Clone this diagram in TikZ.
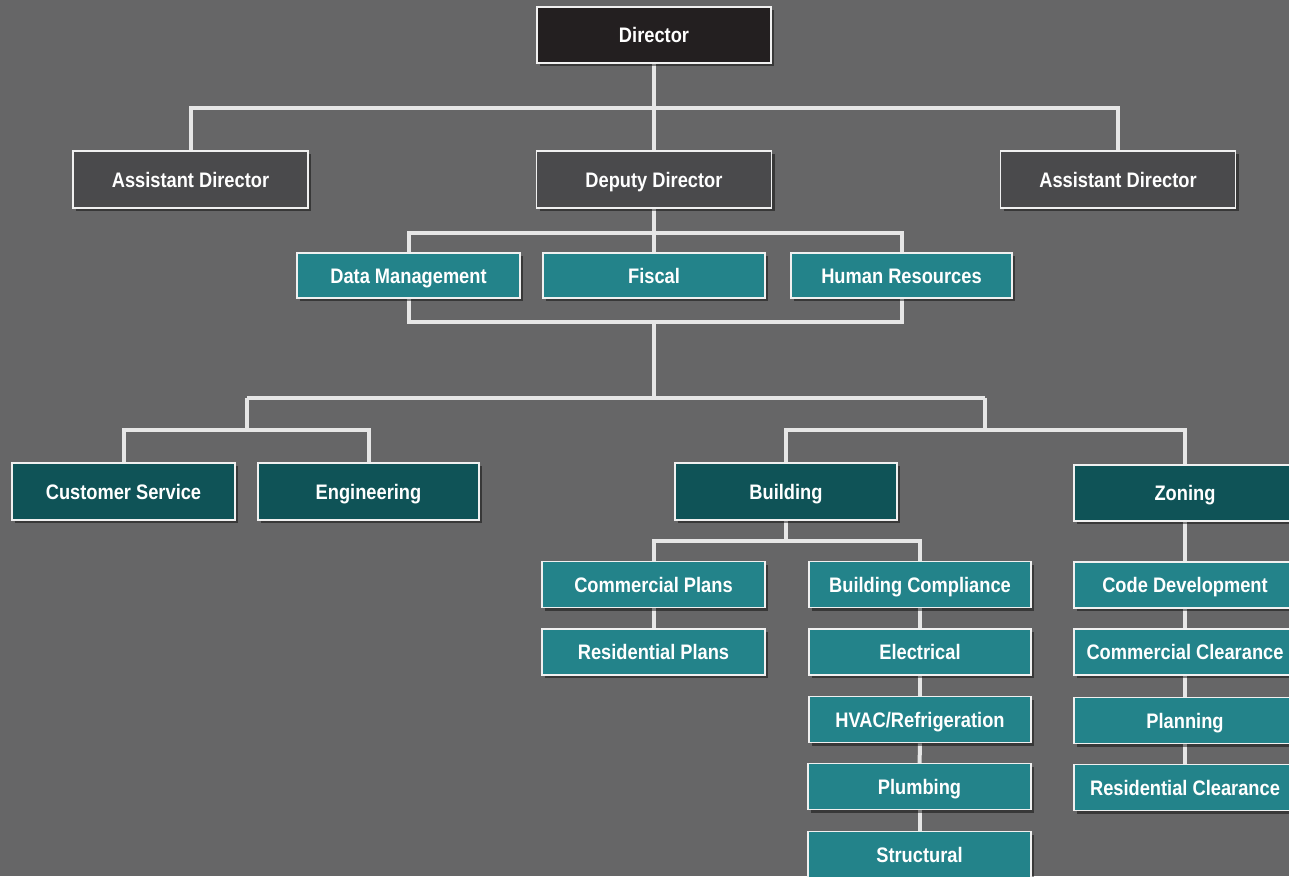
\documentclass[tikz,border=0pt]{standalone}
\usepackage{fontspec}
\setmainfont{Liberation Sans}[FakeStretch=0.87]
\usetikzlibrary{shadows}
\definecolor{bgc}{HTML}{666667}
\definecolor{dircol}{HTML}{231F20}
\definecolor{graycol}{HTML}{4A4A4C}
\definecolor{tealL}{HTML}{23838A}
\definecolor{tealD}{HTML}{0F5357}
\definecolor{linec}{HTML}{E6E6E6}
\pgfdeclarelayer{back}
\pgfdeclarelayer{lines}
\pgfsetlayers{back,lines,main}
\tikzset{
  box/.style={draw=white!94!black, line width=1.5pt, text=white,
    font=\fontsize{21}{24}\selectfont\bfseries, inner sep=0pt,
    text height=15pt, text depth=0pt,
    drop shadow={shadow xshift=3pt, shadow yshift=-3pt, opacity=0.45, fill=black}},
  topbox/.style={box, fill=dircol, minimum width=234pt, minimum height=56pt},
  graybox/.style={box, fill=graycol, minimum width=235pt, minimum height=57pt},
  staffbox/.style={box, fill=tealL, minimum width=222pt, minimum height=45pt},
  divbox/.style={box, fill=tealD, minimum width=222pt, minimum height=57pt},
  unitbox/.style={box, fill=tealL, minimum width=222pt, minimum height=46pt},
  conn/.style={draw=linec, line width=4pt}
}
\begin{document}
\begin{tikzpicture}[x=1pt,y=-1pt]
\begin{pgfonlayer}{back}
\fill[bgc] (0,0) rectangle (1289,876);
\end{pgfonlayer}
\useasboundingbox (0,0) rectangle (1289,876);

% nodes
\node[topbox] (dir) at (654,35) {Director};
\node[graybox] (ad1) at (190.5,179.5) {Assistant Director};
\node[graybox] (dep) at (654,179.5) {Deputy Director};
\node[graybox] (ad2) at (1118,179.5) {Assistant Director};

\node[staffbox, minimum width=223pt] (dm) at (408.5,275.5) {Data Management};
\node[staffbox] (fis) at (654,275.5) {Fiscal};
\node[staffbox, minimum width=221pt] (hr) at (901.5,275.5) {Human Resources};

\node[divbox, minimum width=223pt] (cs) at (123.5,491.5) {Customer Service};
\node[divbox, minimum width=221pt] (eng) at (368.5,491.5) {Engineering};
\node[divbox] (bld) at (786,491.5) {Building};
\node[divbox, minimum height=56pt] (zon) at (1185,493) {Zoning};

\node[unitbox, minimum width=223pt] (cp) at (653.5,584.5) {Commercial Plans};
\node[unitbox, minimum width=223pt] (rp) at (653.5,652) {Residential Plans};
\node[unitbox] (bc) at (920,584.5) {Building Compliance};
\node[unitbox] (el) at (920,652) {Electrical};
\node[unitbox] (hv) at (920,719.5) {HVAC/Refrigeration};
\node[unitbox, minimum width=223pt] (pl) at (919.5,786.5) {Plumbing};
\node[unitbox, minimum width=223pt] (st) at (919.5,854.5) {Structural};

\node[unitbox] (cd) at (1185,585) {Code Development};
\node[unitbox] (cc) at (1185,652) {Commercial Clearance};
\node[unitbox] (pn) at (1185,720.5) {Planning};
\node[unitbox] (rc) at (1185,787.5) {Residential Clearance};

% junctions
\coordinate (j1) at (654,108);
\coordinate (j2) at (654,233);
\coordinate (j3) at (654,322);
\coordinate (j4) at (654,398);
\coordinate (j5) at (247,430);
\coordinate (j6) at (985,430);
\coordinate (j7) at (786,541);

\begin{pgfonlayer}{lines}
\draw[conn] (dir.south) -- (j1);
\draw[conn] (ad1.north) |- (j1) -| (ad2.north);
\draw[conn] (j1) -- (dep.north);

\draw[conn] (dep.south) -- (j2);
\draw[conn] (dm.north) |- (j2) -| (hr.north);
\draw[conn] (j2) -- (fis.north);

\draw[conn] (dm.south) |- (j3) -| (hr.south);
\draw[conn] (j3) -- (j4);
\draw[conn] (j5 |- j4) -- (j6 |- j4);
\draw[conn] (j5 |- j4) -- (j5);
\draw[conn] (j6 |- j4) -- (j6);

\draw[conn] (cs.north) |- (j5) -| (eng.north);
\draw[conn] (bld.north) |- (j6) -| (zon.north);

\draw[conn] (bld.south) -- (j7);
\draw[conn] (cp.north) |- (j7) -| (bc.north);

\draw[conn] (cp) -- (rp);
\draw[conn] (bc) -- (el);
\draw[conn] (el) -- (hv);
\draw[conn] (hv) -- (pl);
\draw[conn] (pl) -- (st);
\draw[conn] (zon) -- (cd);
\draw[conn] (cd) -- (cc);
\draw[conn] (cc) -- (pn);
\draw[conn] (pn) -- (rc);
\end{pgfonlayer}
\end{tikzpicture}
\end{document}
